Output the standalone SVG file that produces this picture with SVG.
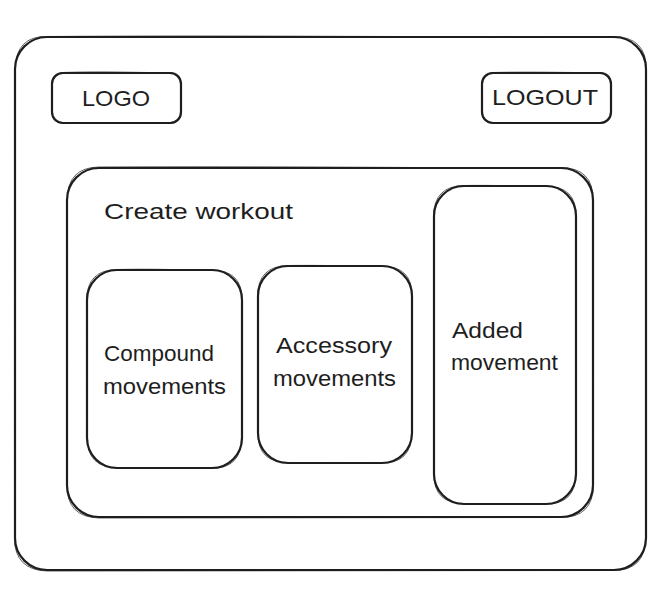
<svg xmlns="http://www.w3.org/2000/svg" width="662" height="596" viewBox="0 0 662 596">
<style>
.box{fill:none;stroke:#1e1e1e;stroke-width:2.2;stroke-linejoin:round}
.sk{fill:none;stroke:#1e1e1e;stroke-width:1;opacity:0.7}
.t{font-family:"Liberation Sans",Arial,sans-serif;font-size:22px;fill:#1e1e1e}
</style>
<rect width="662" height="596" fill="#ffffff"/>
<g id="frame">
<rect class="box" x="15" y="37" width="631" height="533" rx="32"/>
<path class="sk" d="M47 36.5 C250 35 420 37.5 614 36.5 Q646 37 646.5 69 L645.5 539 Q645 570.5 613 570.5 L47 571 Q14.5 570 14.5 538 L15.5 68 Q16 36 47 36.5"/>
</g>
<g id="logo">
<rect class="box" x="52" y="73" width="129" height="50" rx="11"/>
<path class="sk" d="M62 72.5 C110 71 140 73 171 72.5 Q181.5 73 181 84 L181.5 112 Q181 123.5 170 123.5 L63 123 Q51.5 123 52 112 L51.5 84 Q52 73 62 72.5"/>
<text class="t" x="82" y="106" textLength="68" lengthAdjust="spacingAndGlyphs">LOGO</text>
</g>
<g id="logout">
<rect class="box" x="482" y="73" width="129" height="50" rx="11"/>
<path class="sk" d="M492 72.5 C540 71.5 580 73 601 72.5 Q611.5 73 611 84 L611.5 112 Q611 123.5 600 123.5 L493 123 Q481.5 123 482 112 L481.5 84 Q482 73 492 72.5"/>
<text class="t" x="492" y="105" textLength="106" lengthAdjust="spacingAndGlyphs">LOGOUT</text>
</g>
<g id="workout">
<rect class="box" x="67" y="168" width="526" height="349" rx="32"/>
<path class="sk" d="M99 167 C300 166 450 168.5 561 167.5 Q593.5 168 593 200 L593.5 485 Q593 517.5 561 517.5 L99 518 Q66.5 517 67 485 L67.5 200 Q67 167.5 99 167"/>
<text class="t" x="104" y="219" textLength="189" lengthAdjust="spacingAndGlyphs">Create workout</text>
</g>
<g id="compound">
<rect class="box" x="87" y="270" width="155" height="198" rx="30"/>
<path class="sk" d="M117 269.5 C160 268.5 190 270.5 212 270 Q242.5 270.5 242 300 L241.5 438 Q241.5 468.5 211 468.5 L118 467.5 Q87 468 87.5 438 L86.5 300 Q87 270 117 269.5"/>
<text class="t" x="104" y="361" textLength="110" lengthAdjust="spacingAndGlyphs">Compound</text>
<text class="t" x="103" y="394" textLength="123" lengthAdjust="spacingAndGlyphs">movements</text>
</g>
<g id="accessory">
<rect class="box" x="258" y="266" width="154" height="197" rx="30"/>
<path class="sk" d="M288 265.5 C330 265 370 266.5 382 266 Q412.5 266.5 412 296 L411.5 433 Q412 463.5 381 463 L289 462.5 Q257.5 463 258 433 L257.5 296 Q258 266 288 265.5"/>
<text class="t" x="276" y="353" textLength="116" lengthAdjust="spacingAndGlyphs">Accessory</text>
<text class="t" x="273" y="386" textLength="123" lengthAdjust="spacingAndGlyphs">movements</text>
</g>
<g id="added">
<rect class="box" x="434" y="186" width="142" height="318" rx="30"/>
<path class="sk" d="M464 185.5 C500 185 530 186.5 546 186 Q576.5 186.5 576 216 L575.5 474 Q576 504.5 545 504 L465 503.5 Q433.5 504 434 474 L433.5 216 Q434 186 464 185.5"/>
<text class="t" x="452" y="338" textLength="71" lengthAdjust="spacingAndGlyphs">Added</text>
<text class="t" x="451" y="370" textLength="107" lengthAdjust="spacingAndGlyphs">movement</text>
</g>
<g id="connectors"></g>
</svg>
